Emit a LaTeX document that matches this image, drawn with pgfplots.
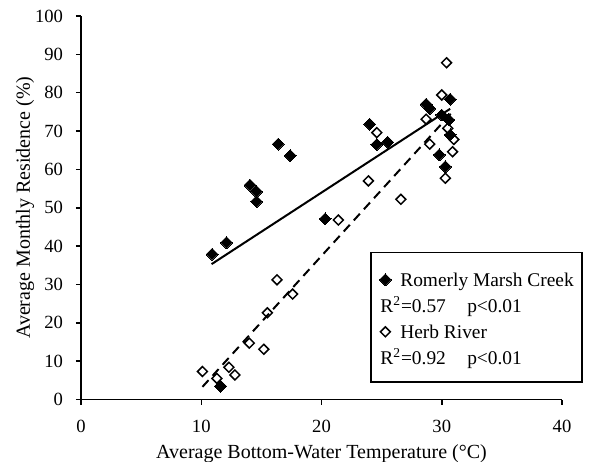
\documentclass[border=0pt]{standalone}
\usepackage{fontspec}
\setmainfont{Liberation Serif}
\usepackage{pgfplots}
\pgfplotsset{compat=1.18}
\begin{document}
\begin{tikzpicture}
\begin{axis}[
  scale only axis, width=240.5pt, height=191.75pt,
  xmin=0, xmax=40, ymin=0, ymax=100,
  xtick={0,10,...,40}, ytick={0,10,...,100},
  axis x line*=bottom, axis y line*=left,
  axis line style={line width=0.75pt,-},
  tick style={line width=0.75pt,black},
  major tick length=2.5pt, tick align=outside,
  ticklabel style={font=\fontsize{9.3}{11}\selectfont},
  xticklabel style={yshift=-4.5pt},
  yticklabel style={xshift=-3pt},
  /pgf/number format/assume math mode=true,
  xlabel={Average Bottom-Water Temperature (°C)},
  ylabel={Average Monthly Residence (\%)},
  label style={font=\fontsize{9.3}{11}\selectfont},
  every axis x label/.style={at={(axis description cs:0.5,-0.141)}, anchor=center},
  every axis y label/.style={at={(axis description cs:-0.1164,0.5)}, rotate=90, anchor=center},
  legend style={name=leg, at={(rel axis cs:0.603,0.363)}, anchor=north west, draw=none,
    font=\fontsize{9.7}{11}\selectfont, inner xsep=4pt, inner ysep=6pt,
    column sep=4.5pt, row sep=3.5pt,
    nodes={inner xsep=0pt, inner ysep=0pt, text height=7pt, text depth=2.5pt}},
  legend cell align=left,
  legend image code/.code={\draw[#1] plot coordinates {(2.7pt,1.2pt)};},
  clip=false,
]
\addplot[only marks, mark=square*, mark size=2.1pt, mark options={rotate=45, fill=black, draw=black, line width=0pt}] coordinates {
(10.9,37.9) (12.1,40.9) (16.4,66.6) (17.4,63.6) (14.05,55.9) (14.6,54.2) (14.6,51.6)
(20.3,47.1) (24.0,71.8) (24.6,66.5) (25.5,67.1) (30.7,78.3) (28.7,77.0) (29.0,75.9)
(30.0,74.2) (30.6,72.9) (30.7,69.0) (29.8,63.8) (30.3,60.7) (11.6,3.5)
};
\addlegendentry{Romerly Marsh Creek}
\addlegendimage{empty legend}
\addlegendentry{\hspace*{-10pt}R\textsuperscript{2}=0.57\hspace{1.1em}p<0.01}
\addplot[only marks, mark=square, mark size=1.75pt, mark options={rotate=45, draw=black, fill=none, line width=0.75pt}] coordinates {
(10.1,7.3) (11.3,5.5) (12.3,8.4) (12.8,6.4) (14.0,14.7) (15.2,13.1) (15.5,22.6)
(16.3,31.2) (17.6,27.5) (21.4,46.8) (23.9,57.0) (26.6,52.2) (24.6,69.6) (30.4,87.8)
(30.0,79.4) (28.7,73.1) (30.5,70.7) (31.0,67.8) (29.0,66.6) (30.9,64.6) (30.3,57.7)
};
\addlegendentry{Herb River}
\addlegendimage{empty legend}
\addlegendentry{\hspace*{-10pt}R\textsuperscript{2}=0.92\hspace{1.1em}p<0.01}
\addplot[forget plot, black, line width=1pt] coordinates {(10.86,35.3) (30.7,75.8)};
\addplot[forget plot, black, line width=1pt, dash pattern=on 4.5pt off 3pt] coordinates {(10.1,3.3) (30.95,75.2)};
\end{axis}
\draw[line width=0.75pt] ([yshift=4pt]leg.north west) rectangle (leg.south east);
\pgfresetboundingbox
\useasboundingbox (-40.5pt,-30.75pt) rectangle (258.5pt,199.75pt);
\end{tikzpicture}
\end{document}
